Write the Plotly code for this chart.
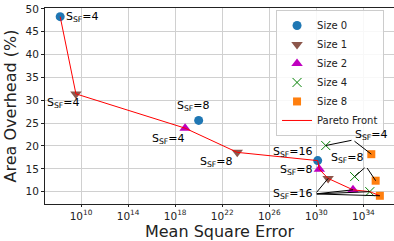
import math
import plotly.graph_objects as go

# ---- data ----
size_names = ["Size 0", "Size 1", "Size 2", "Size 4", "Size 8"]
sf_labels = ["4", "8", "16"]

mse_size0 = [1.7e8, 1.0e20, 1.3e30]
ao_size0 = [48.3, 25.6, 16.8]
mse_size1 = [3.7e9, 1.9e23, 1.0e31]
ao_size1 = [31.4, 18.6, 12.9]
mse_size2 = [7.0e18, 1.8e30, 1.3e33]
ao_size2 = [23.9, 14.9, 10.4]
mse_size4 = [6.3e30, 1.8e33, 3.5e34]
ao_size4 = [20.1, 13.3, 10.0]
mse_size8 = [4.7e34, 1.1e35, 2.5e35]
ao_size8 = [18.2, 12.4, 9.1]

pareto_mse = [1.7e8, 3.7e9, 7.0e18, 1.9e23, 1.3e30, 1.8e30, 1.0e31, 1.3e33, 3.5e34, 2.5e35]
pareto_ao = [48.3, 31.4, 23.9, 18.6, 16.8, 14.9, 12.9, 10.4, 10.0, 9.1]

x_tickvals = [1e10, 1e14, 1e18, 1e22, 1e26, 1e30, 1e34]
x_ticktext = ["10<sup>10</sup>", "10<sup>14</sup>", "10<sup>18</sup>", "10<sup>22</sup>",
              "10<sup>26</sup>", "10<sup>30</sup>", "10<sup>34</sup>"]
y_tickvals = [10, 15, 20, 25, 30, 35, 40, 45, 50]

# group labels (with leader lines): label anchor point (mse, ao)
group_label_sf = ["16", "8", "4"]
group_label_mse = [8.1e29, 1.7e34, 1.3e33]
group_label_ao = [9.5, 15.5, 21.3]

FONT = "DejaVu Sans"

series = [
    (size_names[0], mse_size0, ao_size0, dict(symbol="circle", size=9, color="#1f77b4")),
    (size_names[1], mse_size1, ao_size1, dict(symbol="triangle-down", size=10, color="#8c564b")),
    (size_names[2], mse_size2, ao_size2, dict(symbol="triangle-up", size=10, color="#bf00bf")),
    (size_names[3], mse_size4, ao_size4, dict(symbol="x-thin", size=9, color="#008000",
                                              line=dict(color="#008000", width=1))),
    (size_names[4], mse_size8, ao_size8, dict(symbol="square", size=8, color="#ff7f0e")),
]

fig = go.Figure()
for name, xs, ys, mk in series:
    fig.add_trace(go.Scatter(x=xs, y=ys, mode="markers", name=name, marker=mk))

fig.add_trace(go.Scatter(x=pareto_mse, y=pareto_ao, mode="lines", name="Pareto Front",
                         line=dict(color="#ff0000", width=1)))


def lbl(sf):
    return "S<sub>SF</sub>=" + sf


# simple labels next to points: (series x list, y list, index, xshift, yshift)
simple = [
    (mse_size0, ao_size0, 0, 22, 0),
    (mse_size1, ao_size1, 0, -12, -9),
    (mse_size0, ao_size0, 1, -5, 14),
    (mse_size2, ao_size2, 0, -17, -11),
    (mse_size1, ao_size1, 1, -21, -10),
    (mse_size0, ao_size0, 2, -25, 9),
    (mse_size2, ao_size2, 1, -23, -1),
]
for xs, ys, i, dx, dy in simple:
    fig.add_annotation(x=math.log10(xs[i]), y=ys[i], text=lbl(sf_labels[i]), showarrow=False,
                       xshift=dx, yshift=dy, font=dict(family=FONT, size=11, color="black"))

# grouped labels with leader lines
group_targets = {
    "16": [(mse_size1, ao_size1, 2), (mse_size2, ao_size2, 2), (mse_size4, ao_size4, 2),
           (mse_size8, ao_size8, 2)],
    "8": [(mse_size4, ao_size4, 1), (mse_size8, ao_size8, 1)],
    "4": [(mse_size4, ao_size4, 0), (mse_size8, ao_size8, 0)],
}
anchors = {"16": ("right", "middle", 0), "8": ("right", "bottom", 0), "4": ("left", "bottom", -4)}
for sf, gx, gy in zip(group_label_sf, group_label_mse, group_label_ao):
    lx = math.log10(gx)
    xa, ya, ys_ = anchors[sf]
    fig.add_annotation(x=lx, y=gy, text=lbl(sf), showarrow=False, xanchor=xa, yanchor=ya,
                       yshift=ys_, font=dict(family=FONT, size=11, color="black"))
    for xs, ys, i in group_targets[sf]:
        fig.add_annotation(x=math.log10(xs[i]), y=ys[i], ax=lx, ay=gy, axref="x", ayref="y",
                           text="", showarrow=True, arrowhead=0, arrowwidth=1,
                           arrowcolor="black", standoff=0, startstandoff=0)

fig.update_layout(
    width=394, height=241,
    margin=dict(l=45, r=0, t=8, b=37, autoexpand=False),
    paper_bgcolor="white", plot_bgcolor="white",
    font=dict(family=FONT, size=10.5, color="#222"),
    showlegend=True,
    legend=dict(x=0.662, y=0.99, xanchor="left", yanchor="top",
                bgcolor="rgba(255,255,255,0.85)", bordercolor="#cccccc", borderwidth=1,
                font=dict(family=FONT, size=10, color="#222")),
)
fig.update_xaxes(type="log", range=[6.94, 36.6], tickvals=x_tickvals, ticktext=x_ticktext,
                 showgrid=True, gridcolor="#d0d0d0", gridwidth=1,
                 showline=True, linecolor="#222", linewidth=1, mirror=True,
                 ticks="outside", ticklen=2, tickcolor="#222",
                 title=dict(text="Mean Square Error", font=dict(family=FONT, size=16, color="#222"),
                            standoff=0),
                 zeroline=False)
fig.update_yaxes(range=[7.3, 50.2], tickvals=y_tickvals,
                 showgrid=True, gridcolor="#d0d0d0", gridwidth=1,
                 showline=True, linecolor="#222", linewidth=1, mirror=False,
                 ticks="outside", ticklen=3, tickcolor="#222",
                 title=dict(text="Area Overhead (%)", font=dict(family=FONT, size=16, color="#222"),
                            standoff=4),
                 zeroline=False)

fig.write_html("out.html", config={"displayModeBar": False},
               post_script="document.body.style.margin='0';")
